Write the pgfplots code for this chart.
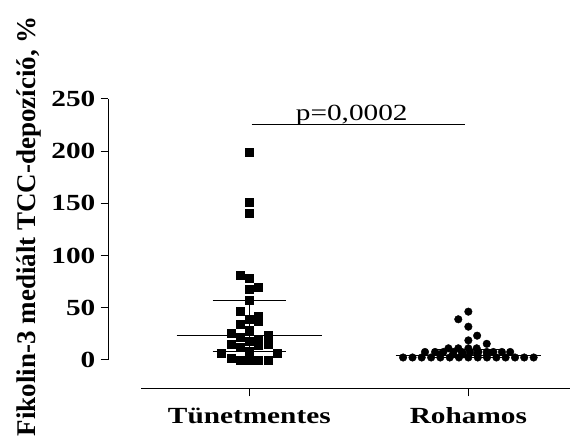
\documentclass[border=0pt]{standalone}
\usepackage{fontspec}
\setmainfont{Liberation Serif}[FakeStretch=1.268]
\newfontfamily\ylabfont{Liberation Serif}
\usepackage{pgfplots}
\pgfplotsset{compat=1.18}

\begin{document}
\begin{tikzpicture}
\begin{axis}[
    scale only axis,
    width=429pt, height=261pt,
    xmin=0.5055, xmax=2.464,
    ymin=0, ymax=250,
    axis x line=bottom, axis y line=left,
    axis line style={-, line width=1pt},
    axis x line shift=29pt,
    axis y line shift=33pt,
    clip=false,
    tick align=outside,
    major tick length=7.5pt,
    tick style={line width=1pt, black},
    xtick={1,2},
    xticklabels={Tünetmentes, Rohamos},
    ytick={0,50,100,150,200,250},
    /pgf/number format/assume math mode=true,
    ticklabel style={font=\bfseries\fontsize{23.1}{27}\selectfont, inner sep=0pt},
    xticklabel style={anchor=base, yshift=-27pt},
    yticklabel style={anchor=east, xshift=-5pt},
    ylabel={Fikolin-3 mediált TCC-depozíció, \%},
    ylabel style={font=\ylabfont\bfseries\fontsize{27}{32}\selectfont, inner sep=0pt,
      at={(rel axis cs:-0.2448,0.513)}, anchor=base},
  ]
  % Tünetmentes
  \addplot[only marks, mark=square*, mark size=4pt, black] coordinates {
    (1,198.6) (1,151) (1,140.8) (0.9575,81.4) (1,78.5) (1,68) (1.0425,70)
    (1,56.8) (0.9575,46.3) (1.0425,41.5) (1.0425,36.7) (1,39) (0.9575,34.2)
    (1,28.7) (0.915,25.5) (0.9575,21.4) (1.085,24) (1,18.2) (1.0425,19.2)
    (1.0425,14.4) (0.915,15) (0.9575,11.8) (1.085,15) (1,8.6) (0.872,6.4)
    (1.128,6.4) (0.915,1.6) (0.9575,0) (1,0) (1.0425,0) (1.085,0)
  };
  % Rohamos
  \addplot[only marks, mark=*, mark size=3.8pt, black] coordinates {
    (1.702,2.4) (1.745,2.4) (1.787,2.4) (1.830,2.4) (1.872,2.4) (1.915,2.4)
    (1.957,2.4) (2,2.4) (2.043,2.4) (2.085,2.4) (2.128,2.4) (2.170,2.4)
    (2.213,2.4) (2.255,2.4) (2.298,2.4)
    (1.871,5.5) (1.930,5.5) (1.976,5.5) (2.040,5.5) (2.085,5.5)
    (1.802,7.7) (1.848,7.7) (1.886,7.7) (1.932,7.7) (1.970,7.7) (2.008,7.7)
    (2.046,7.7) (2.084,7.7) (2.114,7.7) (2.153,7.7) (2.191,7.7)
    (1.909,11.2) (1.954,11.2) (2,11.2) (2.038,11.2)
    (2.084,15.5) (2,18.8) (2.040,23.3) (2,31.9) (1.954,39) (2,46.3)
  };
  % median and interquartile range
  \addplot[black, line width=1pt] coordinates {(0.668,23.3) (1.332,23.3)};
  \addplot[black, line width=1pt] coordinates {(0.8325,56.8) (1.1675,56.8)};
  \addplot[black, line width=1pt] coordinates {(0.8325,8.6) (1.1675,8.6)};
  \addplot[black, line width=1pt] coordinates {(1,8.6) (1,56.8)};
  \addplot[black, line width=1pt] coordinates {(1.668,4.1) (2.332,4.1)};
  \addplot[black, line width=1pt] coordinates {(1.8325,10) (2.1675,10)};
  \addplot[black, line width=1pt] coordinates {(1.8325,2.4) (2.1675,2.4)};
  % significance
  \addplot[black, line width=1pt] coordinates {(1.011,226) (1.985,226)};
  \node[anchor=base, inner sep=0pt, font=\fontsize{23.1}{27}\selectfont] at (axis cs:1.4676,229.2) {p=0,0002};
  \coordinate (bl) at (rel axis cs:-0.3287,-0.295);
  \coordinate (tr) at (rel axis cs:1.00233,1.3793);
\end{axis}
\pgfresetboundingbox
\path[use as bounding box] (bl) rectangle (tr);
\end{tikzpicture}
\end{document}
